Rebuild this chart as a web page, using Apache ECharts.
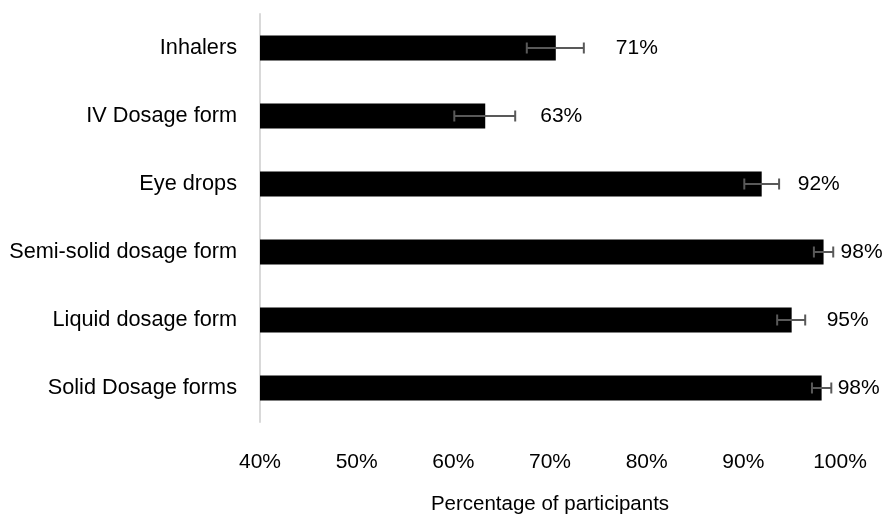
<!DOCTYPE html>
<html>
<head>
<meta charset="utf-8">
<script src="https://cdn.jsdelivr.net/npm/echarts@6/dist/echarts.min.js"></script>
<style>html,body{margin:0;padding:0;background:#fff}#c{width:887px;height:514px}</style>
</head>
<body>
<div id="c"></div>
<script>
const categories = ["Inhalers", "IV Dosage form", "Eye drops", "Semi-solid dosage form", "Liquid dosage form", "Solid Dosage forms"];
const values = [70.6, 63.3, 91.9, 98.3, 95.0, 98.1];
const errLow = [67.6, 60.1, 90.1, 97.3, 93.5, 97.1];
const errHigh = [73.5, 66.4, 93.7, 99.3, 96.4, 99.1];
const xTicks = [40, 50, 60, 70, 80, 90, 100];

const labelDistance = [60, 55, 36, 17, 35, 16];
const FONT = 'Liberation Sans, Arial, sans-serif';

const chart = echarts.init(document.getElementById('c'));
chart.setOption({
  animation: false,
  grid: { left: 260, right: 47, top: 14, bottom: 92, containLabel: false, outerBoundsMode: 'none' },
  xAxis: {
    type: 'value', min: xTicks[0], max: xTicks[xTicks.length - 1], interval: 10,
    axisLine: { show: false }, axisTick: { show: false }, splitLine: { show: false },
    axisLabel: { formatter: v => v + '%', color: '#000', fontSize: 21, fontFamily: FONT, margin: 30 },
    name: 'Percentage of participants', nameLocation: 'middle', nameGap: 72,
    nameTextStyle: { color: '#000', fontSize: 20.5, fontFamily: FONT }
  },
  yAxis: {
    type: 'category', data: categories, inverse: true,
    axisLine: { show: true, lineStyle: { color: '#d9d9d9', width: 2 } },
    axisTick: { show: false },
    axisLabel: { color: '#000', fontSize: 21.7, fontFamily: FONT, margin: 23 }
  },
  series: [
    {
      type: 'bar', barWidth: 25,
      itemStyle: { color: '#000' },
      data: values.map((v, i) => ({
        value: v,
        label: {
          show: true, position: 'right', distance: labelDistance[i],
          formatter: Math.round(v) + '%', color: '#000', fontSize: 21, fontFamily: FONT
        }
      })),
      z: 2
    },
    {
      type: 'custom',
      z: 5,
      data: categories.map((c, i) => [i, errLow[i], errHigh[i]]),
      encode: { x: [1, 2], y: 0 },
      renderItem: function (params, api) {
        const idx = api.value(0);
        const lo = api.coord([api.value(1), idx]);
        const hi = api.coord([api.value(2), idx]);
        const h = 5.5;
        const style = { stroke: '#595959', lineWidth: 2 };
        return {
          type: 'group',
          children: [
            { type: 'line', shape: { x1: lo[0], y1: lo[1], x2: hi[0], y2: hi[1] }, style },
            { type: 'line', shape: { x1: lo[0], y1: lo[1] - h, x2: lo[0], y2: lo[1] + h }, style },
            { type: 'line', shape: { x1: hi[0], y1: hi[1] - h, x2: hi[0], y2: hi[1] + h }, style }
          ]
        };
      }
    }
  ]
});
</script>
</body>
</html>
